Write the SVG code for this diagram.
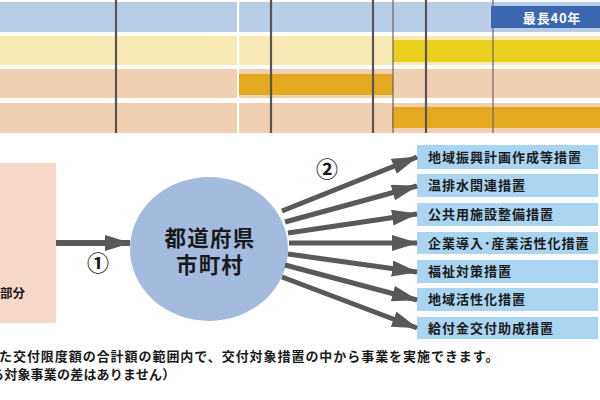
<svg xmlns="http://www.w3.org/2000/svg" width="600" height="400" viewBox="0 0 600 400">
<style>
text{font-family:"Noto Sans CJK JP","Noto Sans",sans-serif;fill:#1a1a1a}
.lbl{font-size:13px;font-weight:bold;letter-spacing:1px}
.vl{stroke:#5a5555;stroke-width:2.2}
.vt{stroke:#6a6565;stroke-width:1.2}
.arr{stroke:#595959;stroke-width:5;fill:none;marker-end:url(#ah)}
.box{fill:#A9D5F2}
.note{font-size:13px;font-weight:bold}
.num{font-size:22px;font-weight:bold}
</style>
<defs>
<marker id="ah" markerUnits="userSpaceOnUse" markerWidth="26" markerHeight="16" refX="25" refY="8" orient="auto">
<path d="M0,0 L26,8 L0,16 Z" fill="#595959"/>
</marker>
</defs>
<g id="chart">
<rect x="0" y="2" width="600" height="30" fill="#BACDE6"/>
<rect x="0" y="36" width="600" height="29" fill="#F7EAB4"/>
<rect x="0" y="69" width="600" height="29" fill="#F1CFB1"/>
<rect x="0" y="103" width="600" height="30" fill="#F1CFB1"/>
<rect x="237" y="0" width="2.2" height="133" fill="#ffffff"/>
<rect x="393" y="40" width="207" height="22" fill="#EBCF1F"/>
<rect x="239" y="74" width="154" height="21" fill="#E3A920"/>
<rect x="392" y="107" width="208" height="21" fill="#E3A920"/>
<line class="vl" x1="116" y1="0" x2="116" y2="133"/>
<line class="vl" x1="271" y1="0" x2="271" y2="133"/>
<line class="vl" x1="373" y1="0" x2="373" y2="133"/>
<line class="vt" x1="393" y1="0" x2="393" y2="133"/>
<line class="vl" x1="426" y1="0" x2="426" y2="133"/>
<line class="vt" x1="493" y1="0" x2="493" y2="133"/>
<rect x="491" y="6" width="109" height="22" fill="#3A67AE"/>
<text x="552" y="22.5" font-size="13" font-weight="bold" text-anchor="middle" letter-spacing="0.8" style="fill:#ffffff">最長40年</text>
</g>
<g id="source">
<rect x="0" y="163" width="56" height="160" fill="#F6D9C8"/>
<text x="0" y="298" font-size="12.5" font-weight="bold">部分</text>
</g>
<g id="center">
<ellipse cx="209" cy="249" rx="79" ry="72" fill="#A4BBDF"/>
<text x="210" y="246" font-size="21.5" font-weight="600" text-anchor="middle" letter-spacing="1.2">都道府県</text>
<text x="210" y="273" font-size="21.5" font-weight="600" text-anchor="middle" letter-spacing="1.2">市町村</text>
</g>
<g id="measures">
<g id="m1"><rect class="box" x="417" y="145" width="181" height="24"/><text class="lbl" x="428" y="162">地域振興計画作成等措置</text></g>
<g id="m2"><rect class="box" x="417" y="174" width="181" height="23"/><text class="lbl" x="428" y="190">温排水関連措置</text></g>
<g id="m3"><rect class="box" x="417" y="203" width="181" height="23"/><text class="lbl" x="428" y="219">公共用施設整備措置</text></g>
<g id="m4"><rect class="box" x="417" y="232" width="181" height="22"/><text class="lbl" x="428" y="248">企業導入･産業活性化措置</text></g>
<g id="m5"><rect class="box" x="417" y="260" width="181" height="23"/><text class="lbl" x="428" y="276">福祉対策措置</text></g>
<g id="m6"><rect class="box" x="417" y="288" width="181" height="23"/><text class="lbl" x="428" y="304">地域活性化措置</text></g>
<g id="m7"><rect class="box" x="417" y="317" width="181" height="22"/><text class="lbl" x="428" y="333">給付金交付助成措置</text></g>
</g>
<g id="connectors">
<line class="arr" x1="56" y1="243" x2="130" y2="243" style="stroke-width:6"/>
<line class="arr" x1="282" y1="211" x2="417" y2="157"/>
<line class="arr" x1="285" y1="222" x2="417" y2="186"/>
<line class="arr" x1="288" y1="233" x2="417" y2="214"/>
<line class="arr" x1="289" y1="243" x2="417" y2="243"/>
<line class="arr" x1="288" y1="254" x2="417" y2="272"/>
<line class="arr" x1="285" y1="265" x2="417" y2="300"/>
<line class="arr" x1="282" y1="277" x2="417" y2="328"/>
</g>
<text class="num" x="98" y="271" text-anchor="middle">①</text>
<text class="num" x="327" y="177" text-anchor="middle">②</text>
<text class="note" x="-1" y="361" letter-spacing="0.95">た交付限度額の合計額の範囲内で、交付対象措置の中から事業を実施できます。</text>
<text class="note" x="-9" y="379" letter-spacing="0.2">る対象事業の差はありません）</text>
</svg>
